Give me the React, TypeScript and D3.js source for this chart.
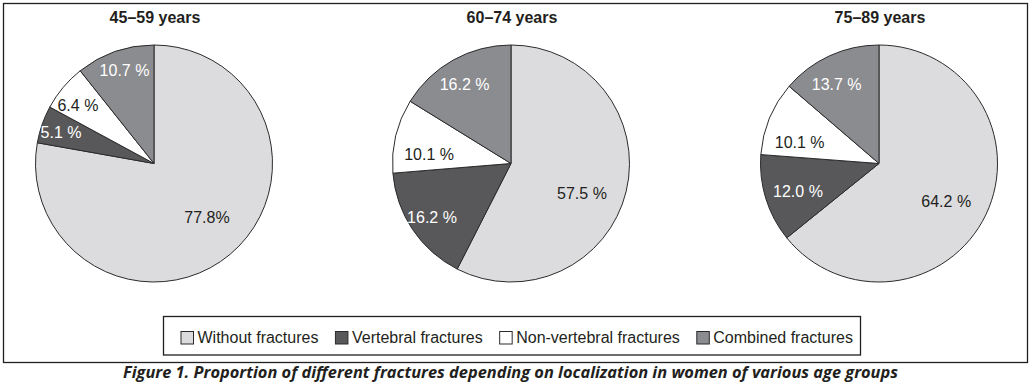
import React, { useEffect, useRef } from "react";
import * as d3 from "d3";

// ---- data ----
const categories = ["Without fractures", "Vertebral fractures", "Non-vertebral fractures", "Combined fractures"];
const ageGroups = ["45–59 years", "60–74 years", "75–89 years"];
const values4559 = [77.8, 5.1, 6.4, 10.7];
const values6074 = [57.5, 16.2, 10.1, 16.2];
const values7589 = [64.2, 12.0, 10.1, 13.7];
const labels4559 = ["77.8%", "5.1 %", "6.4 %", "10.7 %"];
const labels6074 = ["57.5 %", "16.2 %", "10.1 %", "16.2 %"];
const labels7589 = ["64.2 %", "12.0 %", "10.1 %", "13.7 %"];
const caption = "Figure 1. Proportion of different fractures depending on localization in women of various age groups";

// ---- style / layout ----
const W = 1032;
const H = 388;
const colors = ["#dcdcde", "#58585a", "#ffffff", "#8b8c8f"];
const labelColors = ["#231f20", "#ffffff", "#231f20", "#ffffff"];
const pieCentersX = [154, 511, 879];
const pieCenterY = 163.5;
const radius = 118.5;
// label placement: [angle in degrees clockwise from 12 o'clock, radius fraction]
const labelLayout = [
  [[135.4, 0.637], [288.4, 0.827], [307.3, 0.807], [342.4, 0.824]],
  [[112.9, 0.65], [235.6, 0.808], [276.5, 0.696], [329.7, 0.776]],
  [[119.7, 0.653], [251.3, 0.722], [285.2, 0.694], [331.8, 0.756]],
];
const FONT = "'Liberation Sans', Arial, Helvetica, sans-serif";
const INK = "#231f20";

export default function App() {
  const ref = useRef<SVGSVGElement | null>(null);

  useEffect(() => {
    const svg = d3.select(ref.current);
    svg.selectAll("*").remove();

    // outer frame
    svg.append("rect")
      .attr("x", 3.5).attr("y", 3.5).attr("width", 1024).attr("height", 359)
      .attr("fill", "#fff").attr("stroke", INK).attr("stroke-width", 1.3);

    const series = [values4559, values6074, values7589];
    const labelSets = [labels4559, labels6074, labels7589];
    const pie = d3.pie<number>().sort(null).value((d) => d).startAngle(0).endAngle(2 * Math.PI);
    const arc = d3.arc<d3.PieArcDatum<number>>().innerRadius(0).outerRadius(radius);

    series.forEach((vals, i) => {
      const g = svg.append("g").attr("transform", `translate(${pieCentersX[i]},${pieCenterY})`);
      const arcs = pie(vals);
      g.selectAll("path.slice")
        .data(arcs)
        .enter()
        .append("path")
        .attr("class", "slice")
        .attr("d", arc as any)
        .attr("fill", (_d, j) => colors[j])
        .attr("stroke", "#2b2b2b")
        .attr("stroke-width", 1)
        .attr("stroke-linejoin", "round");

      g.selectAll("text.lbl")
        .data(arcs)
        .enter()
        .append("text")
        .attr("class", "lbl")
        .attr("x", (_d, j) => {
          const [deg, f] = labelLayout[i][j];
          return Math.sin((deg * Math.PI) / 180) * f * radius;
        })
        .attr("y", (_d, j) => {
          const [deg, f] = labelLayout[i][j];
          return -Math.cos((deg * Math.PI) / 180) * f * radius;
        })
        .attr("dy", "0.35em")
        .attr("text-anchor", "middle")
        .attr("font-family", FONT)
        .attr("font-size", 16)
        .attr("fill", (_d, j) => labelColors[j])
        .text((_d, j) => labelSets[i][j]);

      svg.append("text")
        .attr("x", pieCentersX[i] + 1)
        .attr("y", 23)
        .attr("text-anchor", "middle")
        .attr("font-family", FONT)
        .attr("font-weight", "bold")
        .attr("font-size", 16)
        .attr("fill", INK)
        .text(ageGroups[i]);
    });

    // legend
    const lx = 163.5, ly = 316.5, lw = 697, lh = 38.5;
    svg.append("rect")
      .attr("x", lx).attr("y", ly).attr("width", lw).attr("height", lh)
      .attr("fill", "#fff").attr("stroke", INK).attr("stroke-width", 1.3);
    let cx = lx + 17.5;
    categories.forEach((c, j) => {
      svg.append("rect")
        .attr("x", cx).attr("y", 331.5).attr("width", 12.5).attr("height", 12.5)
        .attr("fill", colors[j]).attr("stroke", "#2b2b2b").attr("stroke-width", 1);
      const t = svg.append("text")
        .attr("x", cx + 16.5)
        .attr("y", 342.5)
        .attr("font-family", FONT)
        .attr("font-size", 16)
        .attr("fill", INK)
        .text(c);
      const len = (t.node() as SVGTextElement).getComputedTextLength();
      cx = cx + 16.5 + len + 17;
    });

    // caption
    svg.append("text")
      .attr("x", 510.5)
      .attr("y", 377.5)
      .attr("text-anchor", "middle")
      .attr("font-family", "'Open Sans', 'Noto Sans', sans-serif")
      .attr("font-style", "italic")
      .attr("font-weight", 700)
      .attr("font-size", 16)
      .attr("fill", INK)
      .attr("textLength", 775)
      .attr("lengthAdjust", "spacingAndGlyphs")
      .text(caption);
  }, []);

  return (
    <svg
      ref={ref}
      width={W}
      height={H}
      style={{ position: "absolute", left: 0, top: 0, background: "#fff" }}
    />
  );
}
